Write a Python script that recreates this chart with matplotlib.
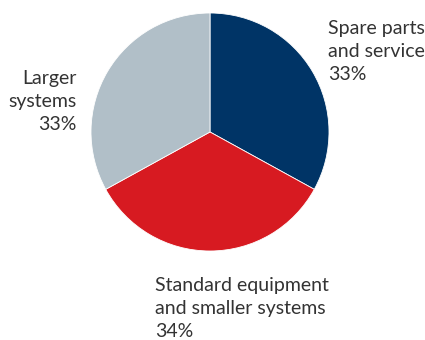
import matplotlib
matplotlib.use("Agg")
import matplotlib.pyplot as plt

# Revenue split by business area
segments = ["Spare parts\nand service", "Standard equipment\nand smaller systems", "Larger\nsystems"]
shares = [33, 34, 33]
colors = ["#003466", "#D71A21", "#B1BFC8"]

plt.rcParams["font.family"] = ["Lato", "DejaVu Sans"]

fig = plt.figure(figsize=(4.25, 3.4), dpi=100)
ax = fig.add_axes([0, 0, 1, 1])

ax.pie(shares, colors=colors, startangle=90, counterclock=False,
       center=(210, 208), radius=119,
       wedgeprops=dict(edgecolor="white", linewidth=0.6))

# pie() resets the view, so fix the pixel-like coordinate frame afterwards
ax.set_xlim(0, 425)
ax.set_ylim(0, 340)
ax.set_aspect("equal")
ax.axis("off")

# labels placed around the pie: (x, baseline of last line, alignment)
label_pos = [(328, 260, "left"), (155, 3, "left"), (77, 210, "right")]
for name, share, (x, y, ha) in zip(segments, shares, label_pos):
    ax.text(x, y, f"{name}\n{share}%", ha=ha, va="baseline", fontsize=14,
            color="#333333", linespacing=1.42)

fig.savefig("out.png")
